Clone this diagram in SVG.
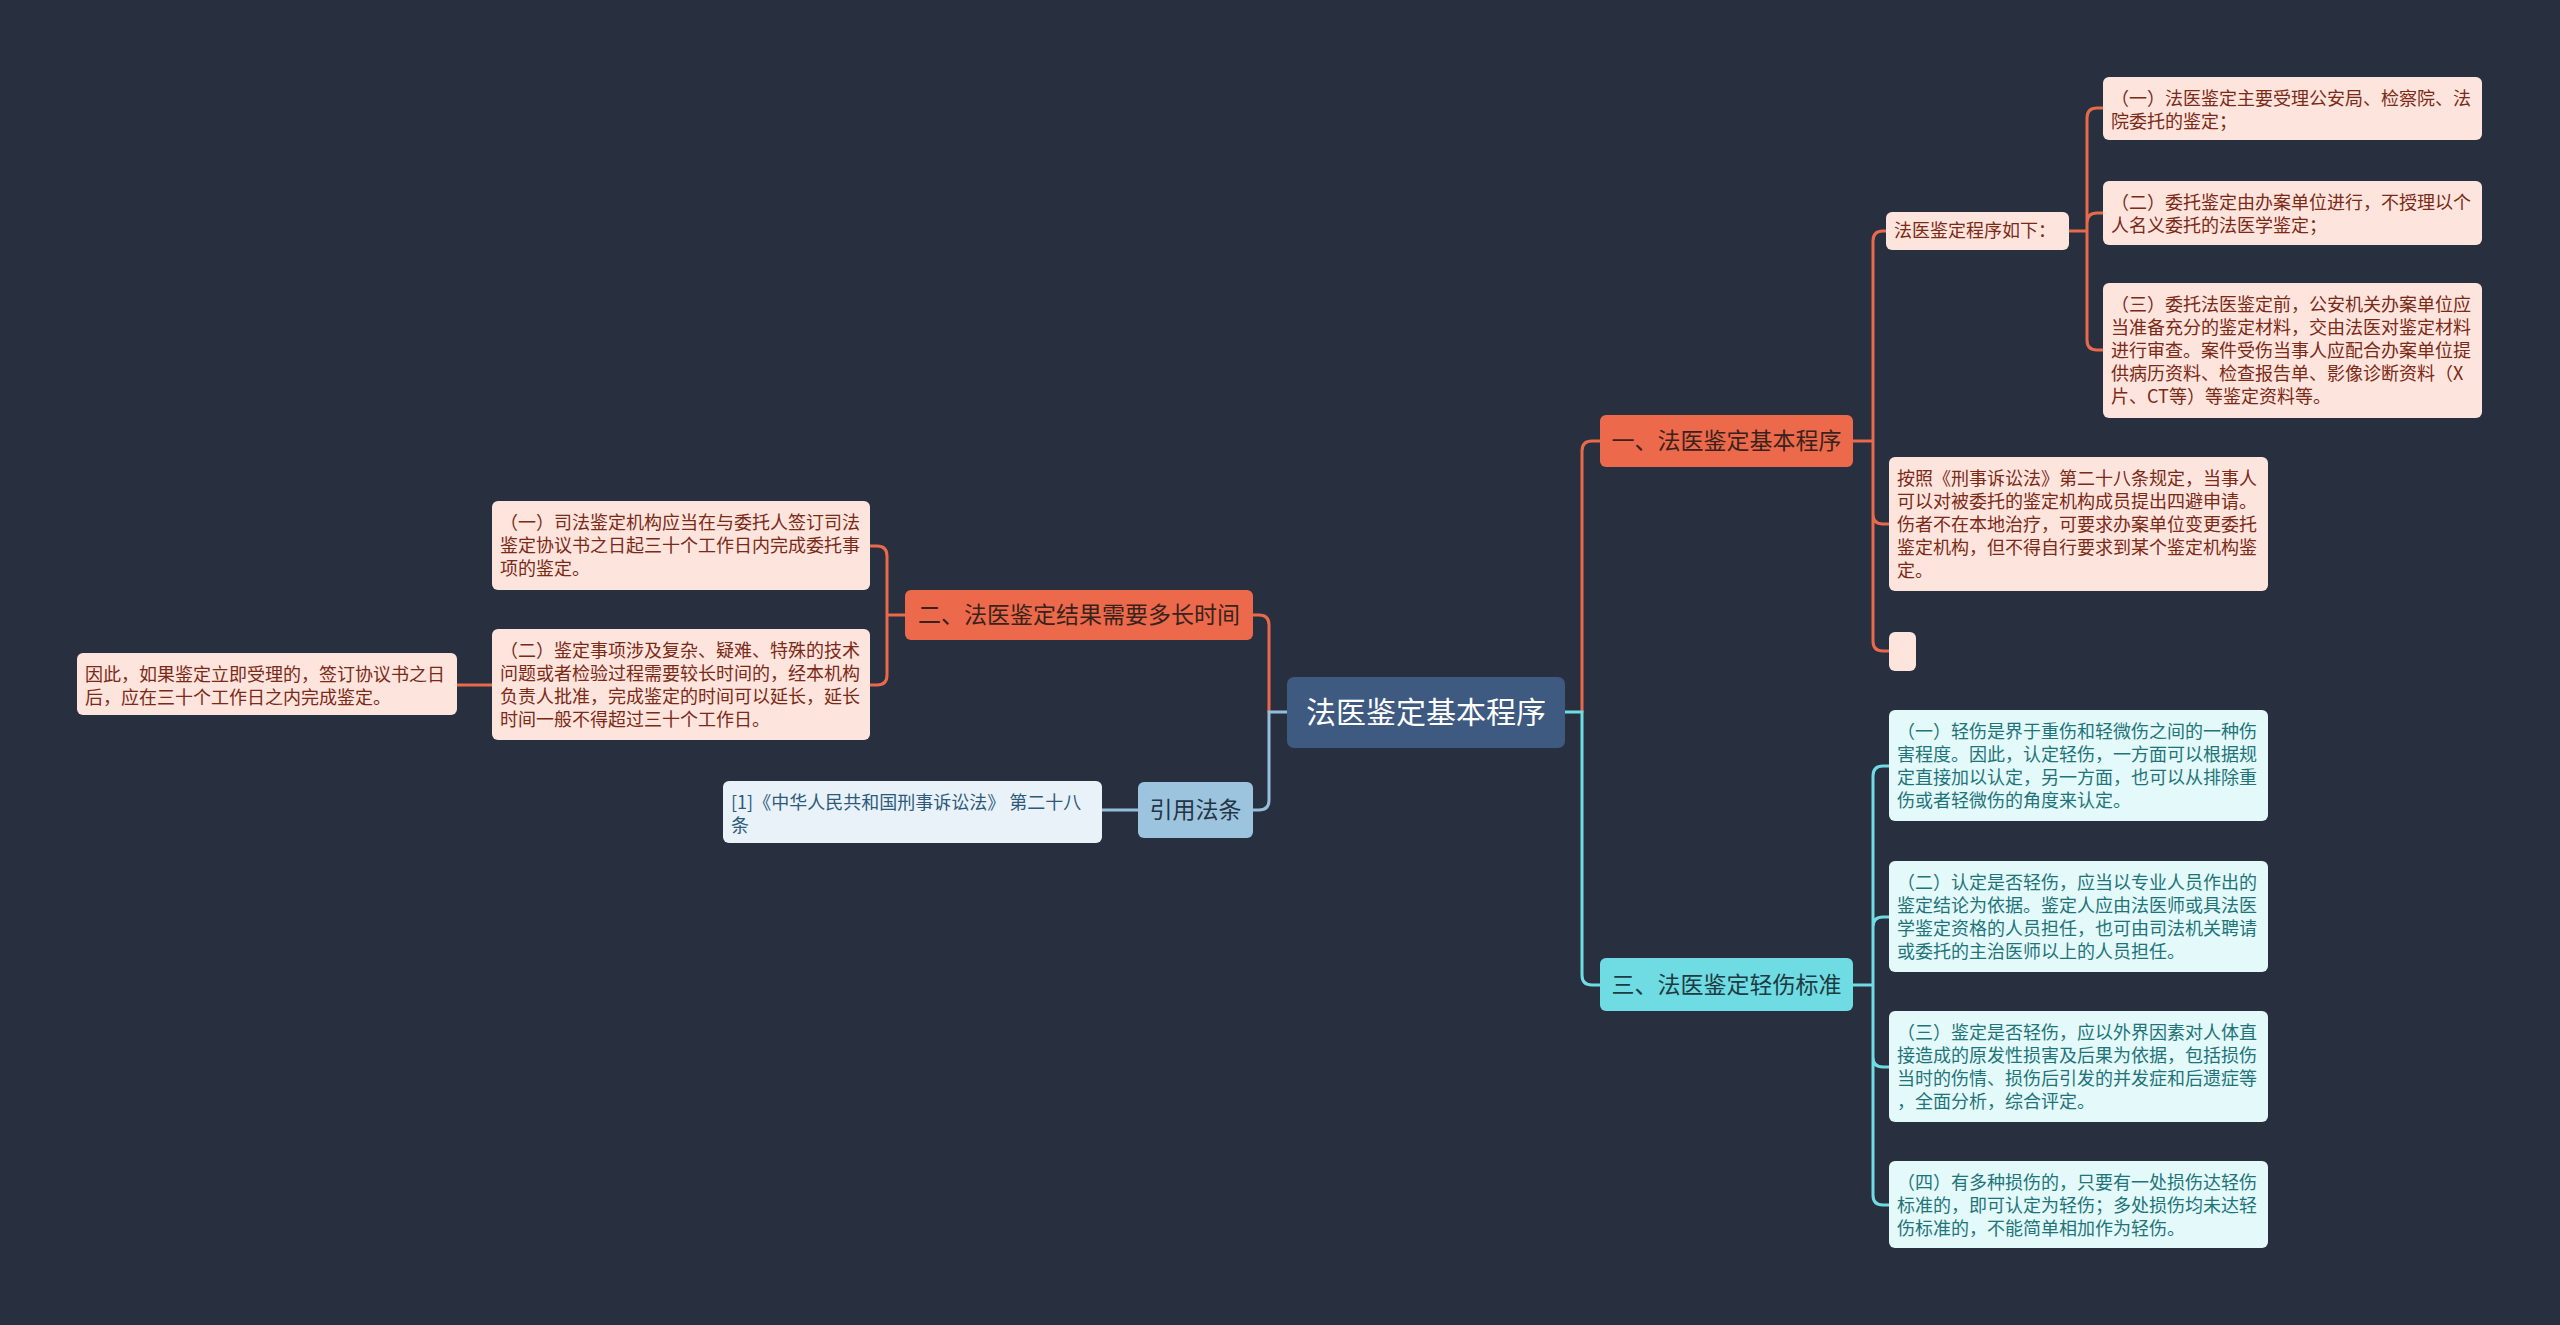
<svg xmlns="http://www.w3.org/2000/svg" width="2560" height="1325" viewBox="0 0 2560 1325">
<style>
text{font-family:"Noto Sans CJK SC","Noto Sans",sans-serif;}
.c{fill:none;stroke-width:3;stroke-linecap:round;}
.co{stroke:#e9694b;}
.cc{stroke:#6fdce3;}
.cb{stroke:#94bedb;}
.pk rect{fill:#fde4dd;}
.pk text{fill:#7a2a17;font-size:18px;}
.cy rect{fill:#e3f9fa;}
.cy text{fill:#1f7479;font-size:18px;}
.or rect{fill:#ec6a4b;}
.or text{fill:#3a221b;font-size:23px;}
.cn rect{fill:#6fdce3;}
.cn text{fill:#1d3b42;font-size:23px;}
</style>
<rect width="2560" height="1325" fill="#283040"/>
<g id="connectors">
<path class="c co" d="M1582,712 V451 Q1582,441 1592,441 H1600"/>
<path class="c cc" d="M1565,712 H1582 V975 Q1582,985 1592,985 H1600"/>
<path class="c co" d="M1853,441 H1873 M1873,441 V241 Q1873,231 1883,231 H1886 M1873,441 V514 Q1873,524 1883,524 H1889 M1873,441 V641 Q1873,651 1883,651 H1889"/>
<path class="c co" d="M2069,231 H2087 M2087,231 V118 Q2087,108 2097,108 H2103 M2087,231 V223 Q2087,213 2097,213 H2103 M2087,231 V340 Q2087,350 2097,350 H2103"/>
<path class="c cc" d="M1853,985 H1873 M1873,985 V776 Q1873,766 1883,766 H1889 M1873,985 V927 Q1873,917 1883,917 H1889 M1873,985 V1057 Q1873,1067 1883,1067 H1889 M1873,985 V1195 Q1873,1205 1883,1205 H1889"/>
<path class="c co" d="M1269,712 V625 Q1269,615 1259,615 H1253"/>
<path class="c cb" d="M1287,712 H1269 V800 Q1269,810 1259,810 H1253"/>
<path class="c co" d="M905,615 H887 M887,615 V556 Q887,546 877,546 H870 M887,615 V675 Q887,685 877,685 H870"/>
<path class="c co" d="M492,685 H457"/>
<path class="c cb" d="M1138,810 H1102"/>
</g>
<g id="center">
<rect x="1287" y="677" width="278" height="71" rx="7" fill="#3e5a80"/>
<text x="1426" y="723" font-size="30" fill="#ffffff" text-anchor="middle">法医鉴定基本程序</text>
</g>
<g id="n1" class="or">
<rect x="1600" y="415" width="253" height="52" rx="6"/>
<text x="1726.5" y="449" text-anchor="middle">一、法医鉴定基本程序</text>
</g>
<g id="n1a" class="pk">
<rect x="1886" y="212" width="183" height="38" rx="6"/>
<text x="1894" y="237">法医鉴定程序如下：</text>
</g>
<g id="n1a1" class="pk">
<rect x="2103" y="77" width="379" height="63" rx="6"/>
<text x="2111" y="105">（一）法医鉴定主要受理公安局、检察院、法</text>
<text x="2111" y="128">院委托的鉴定；</text>
</g>
<g id="n1a2" class="pk">
<rect x="2103" y="181" width="379" height="64" rx="6"/>
<text x="2111" y="209">（二）委托鉴定由办案单位进行，不授理以个</text>
<text x="2111" y="232">人名义委托的法医学鉴定；</text>
</g>
<g id="n1a3" class="pk">
<rect x="2103" y="283" width="379" height="135" rx="6"/>
<text x="2111" y="311">（三）委托法医鉴定前，公安机关办案单位应</text>
<text x="2111" y="334">当准备充分的鉴定材料，交由法医对鉴定材料</text>
<text x="2111" y="357">进行审查。案件受伤当事人应配合办案单位提</text>
<text x="2111" y="380">供病历资料、检查报告单、影像诊断资料（X</text>
<text x="2111" y="403">片、CT等）等鉴定资料等。</text>
</g>
<g id="n1b" class="pk">
<rect x="1889" y="457" width="379" height="134" rx="6"/>
<text x="1897" y="485">按照《刑事诉讼法》第二十八条规定，当事人</text>
<text x="1897" y="508">可以对被委托的鉴定机构成员提出四避申请。</text>
<text x="1897" y="531">伤者不在本地治疗，可要求办案单位变更委托</text>
<text x="1897" y="554">鉴定机构，但不得自行要求到某个鉴定机构鉴</text>
<text x="1897" y="577">定。</text>
</g>
<g id="n1c" class="pk">
<rect x="1889" y="632" width="27" height="39" rx="6"/>
</g>
<g id="n3" class="cn">
<rect x="1600" y="958" width="253" height="53" rx="6"/>
<text x="1726.5" y="993" text-anchor="middle">三、法医鉴定轻伤标准</text>
</g>
<g id="n3a" class="cy">
<rect x="1889" y="710" width="379" height="111" rx="6"/>
<text x="1897" y="738">（一）轻伤是界于重伤和轻微伤之间的一种伤</text>
<text x="1897" y="761">害程度。因此，认定轻伤，一方面可以根据规</text>
<text x="1897" y="784">定直接加以认定，另一方面，也可以从排除重</text>
<text x="1897" y="807">伤或者轻微伤的角度来认定。</text>
</g>
<g id="n3b" class="cy">
<rect x="1889" y="861" width="379" height="111" rx="6"/>
<text x="1897" y="889">（二）认定是否轻伤，应当以专业人员作出的</text>
<text x="1897" y="912">鉴定结论为依据。鉴定人应由法医师或具法医</text>
<text x="1897" y="935">学鉴定资格的人员担任，也可由司法机关聘请</text>
<text x="1897" y="958">或委托的主治医师以上的人员担任。</text>
</g>
<g id="n3c" class="cy">
<rect x="1889" y="1011" width="379" height="111" rx="6"/>
<text x="1897" y="1039">（三）鉴定是否轻伤，应以外界因素对人体直</text>
<text x="1897" y="1062">接造成的原发性损害及后果为依据，包括损伤</text>
<text x="1897" y="1085">当时的伤情、损伤后引发的并发症和后遗症等</text>
<text x="1897" y="1108">，全面分析，综合评定。</text>
</g>
<g id="n3d" class="cy">
<rect x="1889" y="1161" width="379" height="87" rx="6"/>
<text x="1897" y="1189">（四）有多种损伤的，只要有一处损伤达轻伤</text>
<text x="1897" y="1212">标准的，即可认定为轻伤；多处损伤均未达轻</text>
<text x="1897" y="1235">伤标准的，不能简单相加作为轻伤。</text>
</g>
<g id="n2" class="or">
<rect x="905" y="590" width="348" height="50" rx="6"/>
<text x="1079" y="623" text-anchor="middle">二、法医鉴定结果需要多长时间</text>
</g>
<g id="n2a" class="pk">
<rect x="492" y="501" width="378" height="89" rx="6"/>
<text x="500" y="529">（一）司法鉴定机构应当在与委托人签订司法</text>
<text x="500" y="552">鉴定协议书之日起三十个工作日内完成委托事</text>
<text x="500" y="575">项的鉴定。</text>
</g>
<g id="n2b" class="pk">
<rect x="492" y="629" width="378" height="111" rx="6"/>
<text x="500" y="657">（二）鉴定事项涉及复杂、疑难、特殊的技术</text>
<text x="500" y="680">问题或者检验过程需要较长时间的，经本机构</text>
<text x="500" y="703">负责人批准，完成鉴定的时间可以延长，延长</text>
<text x="500" y="726">时间一般不得超过三十个工作日。</text>
</g>
<g id="n2b1" class="pk">
<rect x="77" y="653" width="380" height="62" rx="6"/>
<text x="85" y="681">因此，如果鉴定立即受理的，签订协议书之日</text>
<text x="85" y="704">后，应在三十个工作日之内完成鉴定。</text>
</g>
<g id="n4">
<rect x="1138" y="782" width="115" height="56" rx="6" fill="#9cc4de"/>
<text x="1195.5" y="818" font-size="23" fill="#243444" text-anchor="middle">引用法条</text>
</g>
<g id="n4a">
<rect x="723" y="781" width="379" height="62" rx="6" fill="#e8f2f8"/>
<text x="731" y="809" font-size="18" fill="#2d5a7b">[1]《中华人民共和国刑事诉讼法》 第二十八</text>
<text x="731" y="832" font-size="18" fill="#2d5a7b">条</text>
</g>
</svg>
